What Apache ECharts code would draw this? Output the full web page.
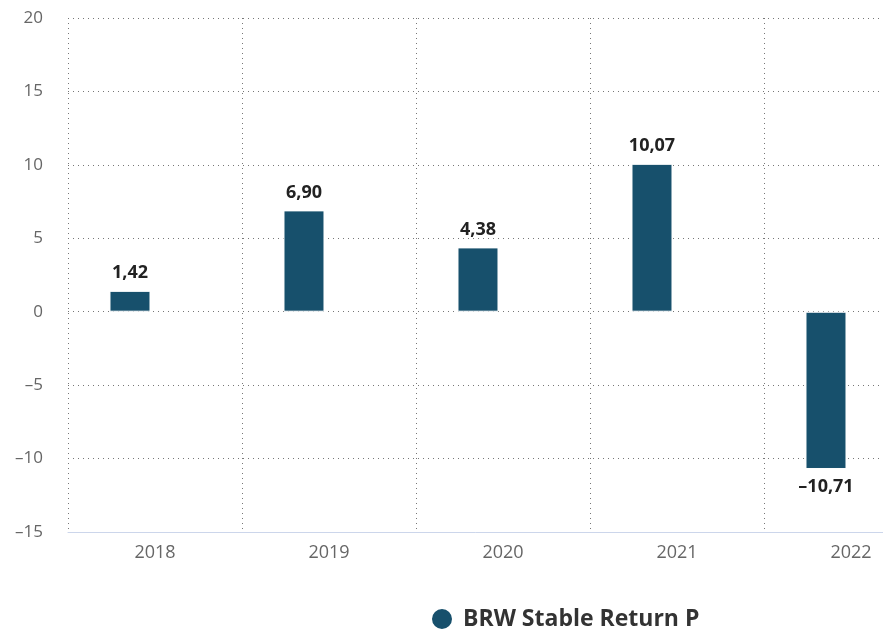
<!DOCTYPE html>
<html>
<head>
<meta charset="utf-8">
<script src="https://cdn.jsdelivr.net/npm/echarts@6/dist/echarts.min.js"></script>
<style>
html, body { margin: 0; padding: 0; background: #fff; }
#main { width: 883px; height: 634px; }
</style>
</head>
<body>
<div id="main"></div>
<script>
var years = ['2018', '2019', '2020', '2021', '2022'];
var returns = [1.42, 6.90, 4.38, 10.07, -10.71];
var seriesName = 'BRW Stable Return P';

var fmt = function (v)
{
    return v.toFixed(2).replace('.', ',').replace('-', '\u2013');
};

var myChart = echarts.init(document.getElementById('main'));

var option =
{
    animation: false,
    textStyle: { fontFamily: 'Open Sans' },
    grid:
    {
        left: 68,
        top: 18,
        width: 870,
        height: 514,
        outerBoundsMode: 'none',
        containLabel: false
    },
    legend:
    {
        top: 607,
        left: 430,
        padding: 0,
        icon: 'circle',
        itemWidth: 22,
        itemHeight: 22,
        textStyle:
        {
            color: '#333333',
            fontSize: 23,
            fontWeight: 'bold',
            fontFamily: 'Open Sans',
            padding: [0, 0, 0, 5]
        },
        data: [seriesName]
    },
    xAxis:
    {
        type: 'category',
        data: years,
        axisLine: { onZero: false, lineStyle: { color: '#ccd6eb', width: 1 } },
        axisTick: { show: false },
        axisLabel:
        {
            color: '#666666',
            fontSize: 18,
            margin: 12
        },
        splitLine:
        {
            show: true,
            lineStyle: { color: '#777777', type: [1, 4], width: 1 }
        }
    },
    yAxis:
    {
        type: 'value',
        min: -15,
        max: 20,
        interval: 5,
        axisLine: { show: false },
        axisTick: { show: false },
        axisLabel:
        {
            color: '#666666',
            fontSize: 17,
            margin: 25,
            formatter: function (v) { return String(v).replace('-', '\u2013'); }
        },
        splitLine:
        {
            lineStyle: { color: '#777777', type: [1, 4], width: 1 }
        }
    },
    series:
    [
        {
            name: seriesName,
            type: 'bar',
            barWidth: 41,
            barGap: '22%',
            itemStyle:
            {
                color: '#17506c',
                borderColor: '#ffffff',
                borderWidth: 1
            },
            label:
            {
                show: true,
                distance: 9,
                color: '#222222',
                fontSize: 18,
                fontWeight: 'bold',
                formatter: function (p) { return fmt(p.value); }
            },
            data: returns.map(function (v)
            {
                return { value: v, label: { position: v < 0 ? 'bottom' : 'top' } };
            })
        },
        {
            // empty slot: the bars sit left of the category centre
            name: 'slot',
            type: 'bar',
            barWidth: 41,
            silent: true,
            data: years.map(function () { return '-'; })
        }
    ]
};

myChart.setOption(option);
</script>
</body>
</html>
